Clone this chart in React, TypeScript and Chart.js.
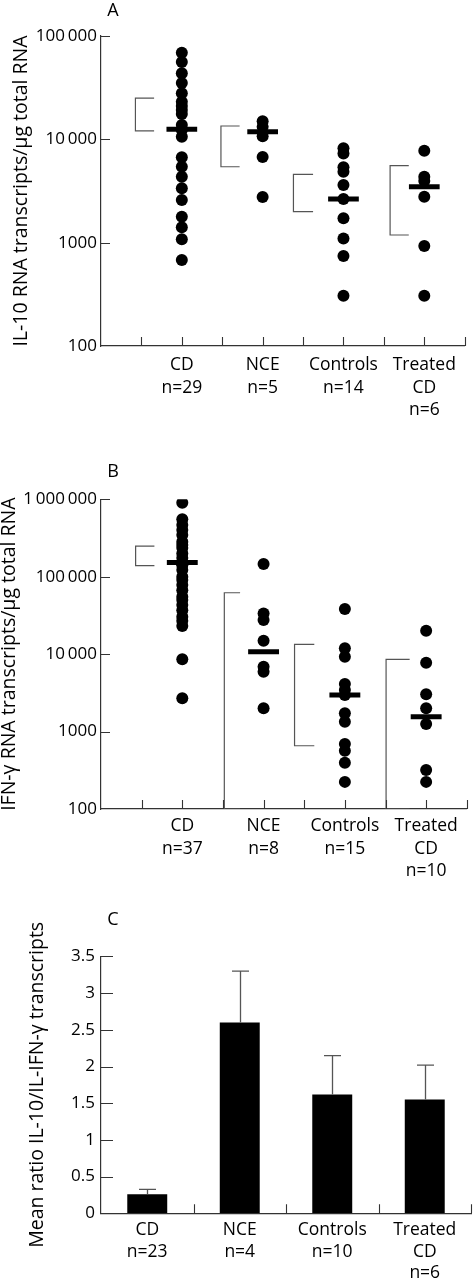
import React, { useEffect, useRef } from 'react';
import { Chart, registerables } from 'chart.js';

Chart.register(...registerables);

// ---------- data ----------
const categories = ['CD', 'NCE', 'Controls', 'Treated CD'];
const nA = [29, 5, 14, 6];
const nB = [37, 8, 15, 10];
const nC = [23, 4, 10, 6];

// Panel A: IL-10 RNA transcripts/µg total RNA
const il10CD = [69000, 56000, 43500, 35000, 28000, 23100, 21000, 19200, 17600, 13800, 12300, 10600, 6700, 5430, 4350, 3360, 2590, 1780, 1410, 1080, 680];
const il10NCE = [15000, 13200, 10700, 6750, 2770];
const il10Controls = [8200, 7300, 5360, 4860, 3610, 2650, 1720, 1100, 743, 307];
const il10Treated = [7760, 4350, 3950, 2785, 929, 307];
const il10Median = [12500, 11850, 2650, 3480];
const il10High = [25100, 13460, 4590, 5560];
const il10Low = [12050, 5430, 1995, 1186];

// Panel B: IFN-γ RNA transcripts/µg total RNA
const ifnCD = [904000, 552000, 466000, 401000, 346000, 283000, 257000, 235000, 200000, 174000, 149000, 141000, 122000, 100000, 91000, 78000, 67000, 55000, 50000, 43000, 37000, 30400, 27000, 23100, 8570, 2690];
const ifnNCE = [146000, 33600, 27600, 14900, 6880, 5930, 2000];
const ifnControls = [38300, 11900, 9250, 4110, 3440, 2960, 1720, 1340, 690, 565, 395, 224];
const ifnTreated = [20000, 7740, 3030, 2000, 1250, 318, 224];
const ifnMedian = [153000, 10700, 2960, 1550];
const ifnHigh = [249000, 62100, 13400, 8570];
const ifnLow = [139000, 100, 656, 100];

// Panel C: mean ratio IL-10 / IFN-γ
const ratioMean = [0.26, 2.6, 1.62, 1.55];
const ratioErr = [0.067, 0.7, 0.527, 0.47];

// ticks
const xTickVals = [0.5, 1, 1.5, 2, 2.5, 3, 3.5, 4, 4.5];
const yTicksA = [100, 1000, 10000, 100000];
const yTickLabelsA = ['100', '1000', '10\u2009000', '100\u2009000'];
const yTicksB = [100, 1000, 10000, 100000, 1000000];
const yTickLabelsB = ['100', '1000', '10\u2009000', '100\u2009000', '1\u2009000\u2009000'];
const yTicksC = [0.5, 1, 1.5, 2, 2.5, 3, 3.5];
const xBoundsC = [0.5, 1.5, 2.5, 3.5];

// ---------- layout / style ----------
const FONT = "'Open Sans', 'DejaVu Sans', sans-serif";
const AXIS = '#333';
const BRACKET = '#555';
const MED_HALF = 0.19;
const bracketDxA = [-0.574, -0.516, -0.619, -0.423];
const bracketArmA = [0.231, 0.231, 0.243, 0.231];
const bracketDxB = [-0.574, -0.483, -0.619, -0.493];
const bracketArmB = [0.231, 0.194, 0.243, 0.29];

function labelLines(cat: string, n: number): string[] {
  const parts = cat === 'Treated CD' ? ['Treated', 'CD'] : [cat];
  return [...parts, `n=${n}`];
}

const inwardTicks = {
  id: 'inwardTicks',
  afterDraw(chart: any, _args: any, o: any) {
    const { ctx, chartArea } = chart;
    const xs = chart.scales.x;
    const ys = chart.scales.y;
    ctx.save();
    ctx.strokeStyle = o.color;
    ctx.lineWidth = o.width;
    ctx.beginPath();
    (o.xValues || []).forEach((v: number) => {
      const p = Math.round(xs.getPixelForValue(v)) + 0.5;
      ctx.moveTo(p, chartArea.bottom);
      ctx.lineTo(p, chartArea.bottom - o.xLen);
    });
    (o.yValues || []).forEach((v: number) => {
      const p = Math.round(ys.getPixelForValue(v)) + 0.5;
      ctx.moveTo(chartArea.left, p);
      ctx.lineTo(chartArea.left + o.yLen, p);
    });
    ctx.stroke();
    ctx.restore();
  },
};

const panelLetter = {
  id: 'panelLetter',
  afterDraw(chart: any, _args: any, o: any) {
    const { ctx } = chart;
    ctx.save();
    ctx.fillStyle = '#000';
    ctx.font = `18px ${FONT}`;
    ctx.textAlign = 'center';
    ctx.textBaseline = 'middle';
    ctx.fillText(o.text, o.x, o.y);
    ctx.restore();
  },
};

const errorBars = {
  id: 'errorBars',
  afterDatasetsDraw(chart: any, _args: any, o: any) {
    const { ctx } = chart;
    const ys = chart.scales.y;
    const meta = chart.getDatasetMeta(0);
    ctx.save();
    ctx.strokeStyle = o.color;
    ctx.lineWidth = o.width;
    ctx.beginPath();
    meta.data.forEach((bar: any, i: number) => {
      const x = Math.round(bar.x) + 0.5;
      const top = ys.getPixelForValue(o.mean[i] + o.err[i]);
      ctx.moveTo(x, bar.y);
      ctx.lineTo(x, top);
      ctx.moveTo(x - o.cap, top);
      ctx.lineTo(x + o.cap, top);
    });
    ctx.stroke();
    ctx.restore();
  },
};

function dotConfig(p: any): any {
  const datasets: any[] = [];
  p.median.forEach((m: number, i: number) => {
    datasets.push({
      type: 'line',
      data: [{ x: i + 1 - MED_HALF, y: m }, { x: i + 1 + MED_HALF, y: m }],
      borderColor: '#000',
      borderWidth: 5,
      borderCapStyle: 'butt',
      pointRadius: 0,
      fill: false,
      order: 0,
    });
  });
  p.high.forEach((h: number, i: number) => {
    const l = i + 1 + p.dx[i];
    const r = l + p.arm[i];
    datasets.push({
      type: 'line',
      data: [{ x: r, y: h }, { x: l, y: h }, { x: l, y: p.low[i] }, { x: r, y: p.low[i] }],
      borderColor: BRACKET,
      borderWidth: 1.2,
      pointRadius: 0,
      fill: false,
      tension: 0,
      order: 2,
    });
  });
  p.groups.forEach((g: number[], i: number) => {
    datasets.push({
      type: 'scatter',
      data: g.map((v) => ({ x: i + 1, y: v })),
      backgroundColor: '#000',
      borderWidth: 0,
      pointRadius: 6,
      order: 1,
    });
  });
  const xLabels = categories.map((c, i) => labelLines(c, p.ns[i]));
  return {
    type: 'scatter',
    data: { datasets },
    plugins: [inwardTicks, panelLetter],
    options: {
      responsive: false,
      animation: false,
      events: [],
      layout: { padding: { top: p.padTop, right: 2, left: 0, bottom: 0 } },
      plugins: {
        legend: { display: false },
        tooltip: { enabled: false },
        inwardTicks: {
          color: AXIS, width: 1.1, xLen: 9, yLen: 9,
          xValues: xTickVals,
          yValues: p.yTicks.slice(1),
        },
        panelLetter: p.letter,
      },
      scales: {
        x: {
          type: 'linear',
          min: 0,
          max: 4.5,
          afterBuildTicks: (s: any) => { s.ticks = xTickVals.map((v) => ({ value: v })); },
          afterFit: (s: any) => { s.height = p.xHeight; },
          grid: { display: false, drawTicks: false },
          border: { display: true, color: AXIS, width: 1.2 },
          ticks: {
            autoSkip: false,
            maxRotation: 0,
            padding: p.xPad,
            color: '#000',
            font: { family: FONT, size: 17.5, lineHeight: 1.28 },
            callback: (v: number) => (Number.isInteger(v) && v >= 1 && v <= 4 ? xLabels[v - 1] : ''),
          },
        },
        y: {
          type: 'logarithmic',
          min: 100,
          max: p.yMax,
          afterBuildTicks: (s: any) => { s.ticks = p.yTicks.map((v: number) => ({ value: v })); },
          afterFit: (s: any) => { s.width = 101; },
          grid: { display: false, drawTicks: false },
          border: { display: true, color: AXIS, width: 1.2 },
          ticks: {
            padding: 4,
            color: '#000',
            font: { family: FONT, size: 17 },
            callback: (v: number) => {
              const i = p.yTicks.indexOf(v);
              return i >= 0 ? p.yTickLabels[i] : '';
            },
          },
          title: {
            display: true,
            text: p.title,
            color: '#000',
            font: { family: FONT, size: 19.5, lineHeight: 0.8 },
            padding: { top: p.titlePad, bottom: 0 },
          },
        },
      },
    },
  };
}

export default function App() {
  const refA = useRef<HTMLCanvasElement>(null);
  const refB = useRef<HTMLCanvasElement>(null);
  const refC = useRef<HTMLCanvasElement>(null);

  useEffect(() => {
    Chart.defaults.font.family = FONT;
    Chart.defaults.color = '#000';

    const cfgA = dotConfig({
      groups: [il10CD, il10NCE, il10Controls, il10Treated],
      median: il10Median, high: il10High, low: il10Low,
      dx: bracketDxA, arm: bracketArmA,
      yTicks: yTicksA, yTickLabels: yTickLabelsA, yMax: 100000,
      ns: nA,
      title: 'IL-10 RNA transcripts/\u03bcg total RNA',
      padTop: 36, xHeight: 74, xPad: 8.3, titlePad: 13.7,
      letter: { text: 'A', x: 113, y: 10.5 },
    });
    const cfgB = dotConfig({
      groups: [ifnCD, ifnNCE, ifnControls, ifnTreated],
      median: ifnMedian, high: ifnHigh, low: ifnLow,
      dx: bracketDxB, arm: bracketArmB,
      yTicks: yTicksB, yTickLabels: yTickLabelsB, yMax: 1000000,
      ns: nB,
      title: 'IFN-\u03b3 RNA transcripts/\u03bcg total RNA',
      padTop: 79.3, xHeight: 71, xPad: 6.2, titlePad: 1.5,
      letter: { text: 'B', x: 113, y: 51.5 },
    });
    const cfgC: any = {
      type: 'bar',
      data: {
        labels: categories.map((c, i) => labelLines(c, nC[i])),
        datasets: [{
          data: ratioMean,
          backgroundColor: '#000',
          borderWidth: 0,
          barPercentage: 0.432,
          categoryPercentage: 1,
        }],
      },
      plugins: [inwardTicks, panelLetter, errorBars],
      options: {
        responsive: false,
        animation: false,
        events: [],
        layout: { padding: { top: 76.4, right: 2, left: 0, bottom: 0 } },
        plugins: {
          legend: { display: false },
          tooltip: { enabled: false },
          inwardTicks: { color: AXIS, width: 1.1, xLen: 9, yLen: 12, xValues: xBoundsC, yValues: yTicksC },
          panelLetter: { text: 'C', x: 113, y: 40 },
          errorBars: { mean: ratioMean, err: ratioErr, color: '#555', width: 1.3, cap: 8.5 },
        },
        scales: {
          x: {
            type: 'category',
            afterFit: (s: any) => { s.height = 66.7; },
            grid: { display: false, drawTicks: false },
            border: { display: true, color: AXIS, width: 1.2 },
            ticks: {
              autoSkip: false,
              maxRotation: 0,
              padding: 6,
              color: '#000',
              font: { family: FONT, size: 17.5, lineHeight: 1.23 },
            },
          },
          y: {
            type: 'linear',
            min: 0,
            max: 3.5,
            afterFit: (s: any) => { s.width = 101; },
            grid: { display: false, drawTicks: false },
            border: { display: true, color: AXIS, width: 1.2 },
            ticks: {
              stepSize: 0.5,
              padding: 6,
              color: '#000',
              font: { family: FONT, size: 17 },
              callback: (v: number) => String(v),
            },
            title: {
              display: true,
              text: 'Mean ratio IL-10/IL-IFN-\u03b3 transcripts',
              color: '#000',
              font: { family: FONT, size: 19.5, lineHeight: 0.8 },
              padding: { top: 30, bottom: 0 },
            },
          },
        },
      },
    };

    const charts = [
      new Chart(refA.current as HTMLCanvasElement, cfgA),
      new Chart(refB.current as HTMLCanvasElement, cfgB),
      new Chart(refC.current as HTMLCanvasElement, cfgC),
    ];
    return () => charts.forEach((c) => c.destroy());
  }, []);

  return (
    <div style={{ position: 'absolute', left: 0, top: 0, width: 473, height: 1280, background: '#fff' }}>
      <canvas ref={refA} width={473} height={420} style={{ position: 'absolute', left: 0, top: 0 }} />
      <canvas ref={refB} width={473} height={460} style={{ position: 'absolute', left: 0, top: 420 }} />
      <canvas ref={refC} width={473} height={400} style={{ position: 'absolute', left: 0, top: 880 }} />
    </div>
  );
}
